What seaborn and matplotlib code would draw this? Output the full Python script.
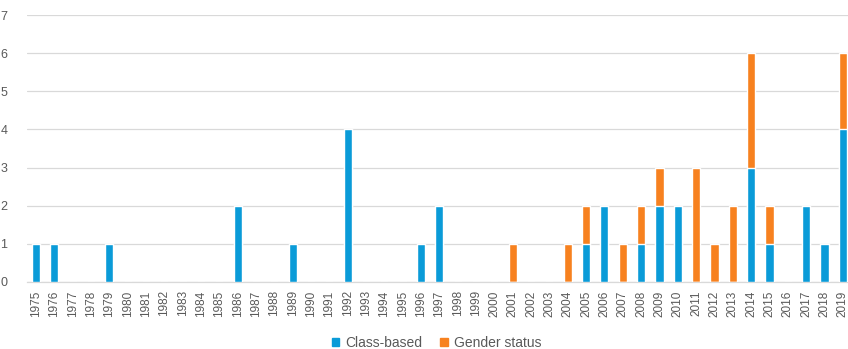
import matplotlib
matplotlib.use("Agg")
import matplotlib.pyplot as plt
import pandas as pd
import seaborn as sns
from matplotlib.patches import Patch

years = [str(y) for y in range(1975, 2020)]

class_based = {1975: 1, 1976: 1, 1979: 1, 1986: 2, 1989: 1, 1992: 4, 1996: 1, 1997: 2,
               2005: 1, 2006: 2, 2008: 1, 2009: 2, 2010: 2, 2014: 3, 2015: 1, 2017: 2,
               2018: 1, 2019: 4}
gender_status = {2001: 1, 2004: 1, 2005: 1, 2007: 1, 2008: 1, 2009: 1, 2011: 3, 2012: 1,
                 2013: 2, 2014: 3, 2015: 1, 2019: 2}

BLUE = "#0A9BD8"
ORANGE = "#F7811F"
TEXT = "#595959"
GRID = "#D9D9D9"

df = pd.DataFrame({"year": years})
df["class"] = [class_based.get(int(y), 0) for y in years]
df["gender"] = [gender_status.get(int(y), 0) for y in years]
df["total"] = df["class"] + df["gender"]

sns.set_style("white")
plt.rcParams["font.family"] = ["Liberation Sans", "DejaVu Sans"]

fig = plt.figure(figsize=(8.48, 3.49), dpi=100)
ax = fig.add_axes([0.0316, 0.192, 0.973, 0.765])

# stacked: orange totals underneath, blue class-based drawn over the lower part
sns.barplot(data=df, x="year", y="total", color=ORANGE, width=0.45,
            saturation=1, ax=ax, zorder=3)
sns.barplot(data=df, x="year", y="class", color=BLUE, width=0.45,
            saturation=1, ax=ax, zorder=4)

ax.set_ylim(0, 7)
ax.set_xlim(-0.5, len(years) - 0.5)
ax.set_yticks(range(0, 8))
ax.grid(axis="y", color=GRID, linewidth=0.9, zorder=0)
ax.set_axisbelow(True)
for s in ["top", "right", "left"]:
    ax.spines[s].set_visible(False)
ax.spines["bottom"].set_color(GRID)
ax.spines["bottom"].set_linewidth(0.9)

ax.set_xlabel("")
ax.set_ylabel("")
ax.tick_params(axis="y", length=0, pad=14, labelsize=9, labelcolor=TEXT)
ax.tick_params(axis="x", length=0, pad=6, labelsize=8.5, labelcolor=TEXT, labelrotation=90)

handles = [Patch(color=BLUE, label="Class-based"), Patch(color=ORANGE, label="Gender status")]
fig.legend(handles=handles, loc="center", bbox_to_anchor=(0.515, 0.017), ncol=2,
           frameon=False, fontsize=10, handlelength=0.55, handleheight=0.55,
           handletextpad=0.45, columnspacing=1.3, labelcolor=TEXT)

fig.savefig("out.png", dpi=100)
